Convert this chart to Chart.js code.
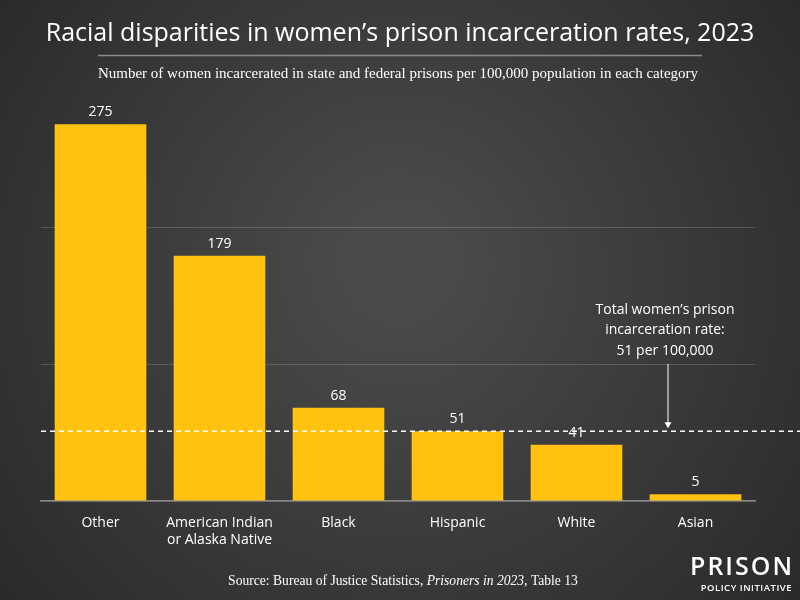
<!DOCTYPE html>
<html><head><meta charset="utf-8">
<script src="https://cdn.jsdelivr.net/npm/chart.js@4"></script>
<style>html,body{margin:0;padding:0;background:#333}canvas{display:block}</style>
</head><body>
<div style="width:800px;height:600px"><canvas id="c" width="800" height="600"></canvas></div>
<script>
const categorias = [["Other"], ["American Indian", "or Alaska Native"], ["Black"], ["Hispanic"], ["White"], ["Asian"]]
const taxas = [275, 179, 68, 51, 41, 5]
const taxaTotal = 51

const fundo = {
  id: "fundo",
  beforeDraw(chart) {
    const ctx = chart.ctx
    const g = ctx.createRadialGradient(400, 260, 50, 400, 300, 560)
    g.addColorStop(0, "#4a4a4a")
    g.addColorStop(1, "#262626")
    ctx.save()
    ctx.fillStyle = g
    ctx.fillRect(0, 0, 800, 600)
    ctx.restore()
  },
  afterDraw(chart) {
    const ctx = chart.ctx
    const y = chart.scales.y
    const area = chart.chartArea
    const meta = chart.getDatasetMeta(0)
    ctx.save()
    ctx.fillStyle = "#fff"
    ctx.textAlign = "center"
    ctx.textBaseline = "alphabetic"
    ctx.font = "25px 'Open Sans', sans-serif"
    ctx.fillText("Racial disparities in women\u2019s prison incarceration rates, 2023", 400, 41)
    ctx.strokeStyle = "#8a8a8a"
    ctx.lineWidth = 1.5
    ctx.beginPath(); ctx.moveTo(98, 55.5); ctx.lineTo(702, 55.5); ctx.stroke()
    ctx.font = "15px 'Liberation Serif', serif"
    ctx.fillText("Number of women incarcerated in state and federal prisons per 100,000 population in each category", 398, 78)

    // valores
    ctx.font = "14px 'Open Sans', sans-serif"
    meta.data.forEach((bar, i) => {
      ctx.fillText(String(taxas[i]), bar.x, bar.y - 8)
    })

    // linha tracejada
    const yt = y.getPixelForValue(taxaTotal)
    ctx.strokeStyle = "#fff"
    ctx.lineWidth = 1.5
    ctx.setLineDash([5, 4])
    ctx.beginPath(); ctx.moveTo(area.left, yt); ctx.lineTo(800, yt); ctx.stroke()
    ctx.setLineDash([])

    // anotacao
    ctx.font = "14px 'Open Sans', sans-serif"
    ctx.fillText("Total women\u2019s prison", 665, 314)
    ctx.fillText("incarceration rate:", 665, 334)
    ctx.fillText("51 per 100,000", 665, 355)
    ctx.lineWidth = 1
    ctx.beginPath(); ctx.moveTo(668, 364); ctx.lineTo(668, yt - 4); ctx.stroke()
    ctx.beginPath(); ctx.moveTo(664.5, yt - 9); ctx.lineTo(668, yt - 3); ctx.lineTo(671.5, yt - 9); ctx.closePath(); ctx.fill()

    // fonte
    ctx.font = "13.6px 'Liberation Serif', serif"
    const p1 = "Source: Bureau of Justice Statistics, "
    const p3 = ", Table 13"
    const w1 = ctx.measureText(p1).width
    const w3 = ctx.measureText(p3).width
    ctx.font = "italic 13.6px 'Liberation Serif', serif"
    const p2 = "Prisoners in 2023"
    const w2 = ctx.measureText(p2).width
    let x0 = 403 - (w1 + w2 + w3) / 2
    ctx.textAlign = "left"
    ctx.font = "13.6px 'Liberation Serif', serif"
    ctx.fillText(p1, x0, 585)
    ctx.font = "italic 13.6px 'Liberation Serif', serif"
    ctx.fillText(p2, x0 + w1, 585)
    ctx.font = "13.6px 'Liberation Serif', serif"
    ctx.fillText(p3, x0 + w1 + w2, 585)

    // logo
    ctx.textAlign = "right"
    ctx.font = "600 25px 'Open Sans', sans-serif"
    ctx.letterSpacing = "2px"
    ctx.fillText("PRISON", 794, 575)
    ctx.font = "600 9.5px 'Open Sans', sans-serif"
    ctx.letterSpacing = "0.5px"
    ctx.fillText("POLICY INITIATIVE", 792, 591)
    ctx.restore()
  }
}

new Chart(document.getElementById("c"), {
  type: "bar",
  data: {
    labels: categorias,
    datasets: [{
      data: taxas,
      backgroundColor: "#ffc20e",
      categoryPercentage: 1,
      barPercentage: 0.77
    }]
  },
  options: {
    responsive: false,
    animation: false,
    layout: { padding: { top: 90, right: 45, left: 0, bottom: 0 } },
    plugins: { legend: { display: false }, tooltip: { enabled: false } },
    scales: {
      x: {
        grid: { display: false },
        border: { color: "#888", width: 1.5 },
        ticks: { color: "#fff", font: { family: "'Open Sans', sans-serif", size: 14 }, padding: 6, maxRotation: 0 },
        afterFit(s) { s.height = 99 }
      },
      y: {
        min: 0,
        max: 300,
        ticks: { display: false, stepSize: 100 },
        border: { display: false },
        grid: {
          color: c => c.tick && c.tick.value > 200 ? "rgba(0,0,0,0)" : "rgba(255,255,255,0.16)",
          drawTicks: false
        },
        afterFit(s) { s.width = 41 }
      }
    }
  },
  plugins: [fundo]
})
</script>
</body></html>
